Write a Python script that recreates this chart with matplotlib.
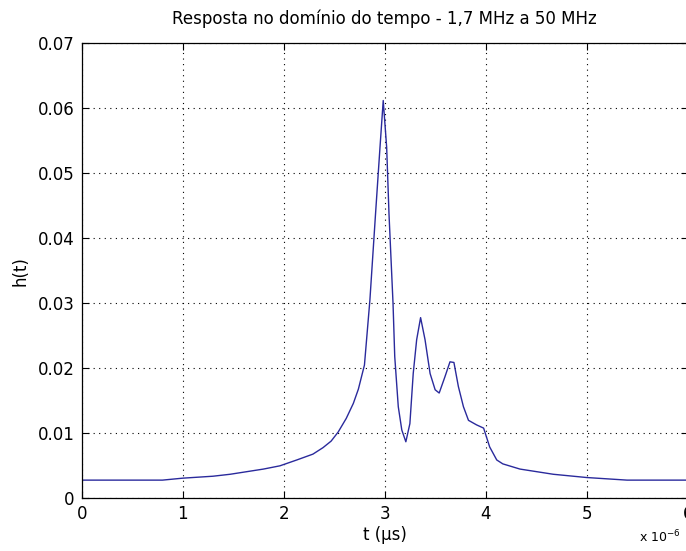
#!/usr/bin/env python3
import numpy as np
import matplotlib.pyplot as plt

# impulse response samples, t in microseconds
t_us = [0.0, 0.5, 0.8, 1.0, 1.3, 1.47, 1.8, 1.963, 2.13, 2.29, 2.39, 2.47,
        2.54, 2.62, 2.69, 2.74, 2.80, 2.854, 2.91, 2.954, 2.986, 3.02, 3.043,
        3.083, 3.10, 3.135, 3.17, 3.21, 3.25, 3.283, 3.317, 3.356, 3.40, 3.45,
        3.50, 3.54, 3.597, 3.647, 3.686, 3.73, 3.78, 3.83, 3.91, 3.98, 4.04,
        4.11, 4.17, 4.34, 4.67, 5.0, 5.4, 6.0]
h = [0.0028, 0.0028, 0.0028, 0.0031, 0.0034, 0.0037, 0.0045, 0.0050, 0.0059,
     0.0068, 0.0078, 0.0088, 0.0102, 0.0123, 0.0146, 0.0168, 0.0205, 0.0305,
     0.0438, 0.0540, 0.0612, 0.0540, 0.0438, 0.0300, 0.0218, 0.0141, 0.0105,
     0.0087, 0.0115, 0.0192, 0.0244, 0.0278, 0.0244, 0.0192, 0.0167, 0.0162,
     0.0187, 0.0210, 0.0209, 0.0172, 0.0141, 0.0120, 0.0113, 0.0108, 0.0079,
     0.0059, 0.0053, 0.0045, 0.0037, 0.0032, 0.0028, 0.0028]

xticks = [0, 1, 2, 3, 4, 5, 6]
yticks = [0, 0.01, 0.02, 0.03, 0.04, 0.05, 0.06, 0.07]
ytick_labels = ['0', '0.01', '0.02', '0.03', '0.04', '0.05', '0.06', '0.07']

plt.rcParams['font.family'] = 'DejaVu Sans'
fig = plt.figure(figsize=(6.86, 5.51), dpi=100)
ax = fig.add_axes([0.119, 0.0956, 0.8834, 0.8258])

ax.plot(t_us, h, color='#2a2a9c', linewidth=1.0)

ax.set_xlim(0, 6)
ax.set_ylim(0, 0.07)
ax.set_xticks(xticks)
ax.set_xticklabels([str(x) for x in xticks])
ax.set_yticks(yticks)
ax.set_yticklabels(ytick_labels)
ax.tick_params(direction='in', top=True, right=True, length=5, labelsize=12,
               pad=5, colors='black')
ax.grid(True, color='black', linestyle=(0, (1, 4)), linewidth=0.8)
for s in ax.spines.values():
    s.set_linewidth(0.9)

ax.set_title('Resposta no domínio do tempo - 1,7 MHz a 50 MHz', fontsize=12, pad=14)
ax.set_xlabel('t (µs)', fontsize=12, labelpad=2)
ax.set_ylabel('h(t)', fontsize=12, labelpad=6)
# multiplier for the time axis, sits under the right end
ax.text(0.92, -0.066, r'x 10$^{-6}$', transform=ax.transAxes, fontsize=9,
        ha='left', va='top')

fig.savefig('out.png', dpi=100, facecolor='white')
